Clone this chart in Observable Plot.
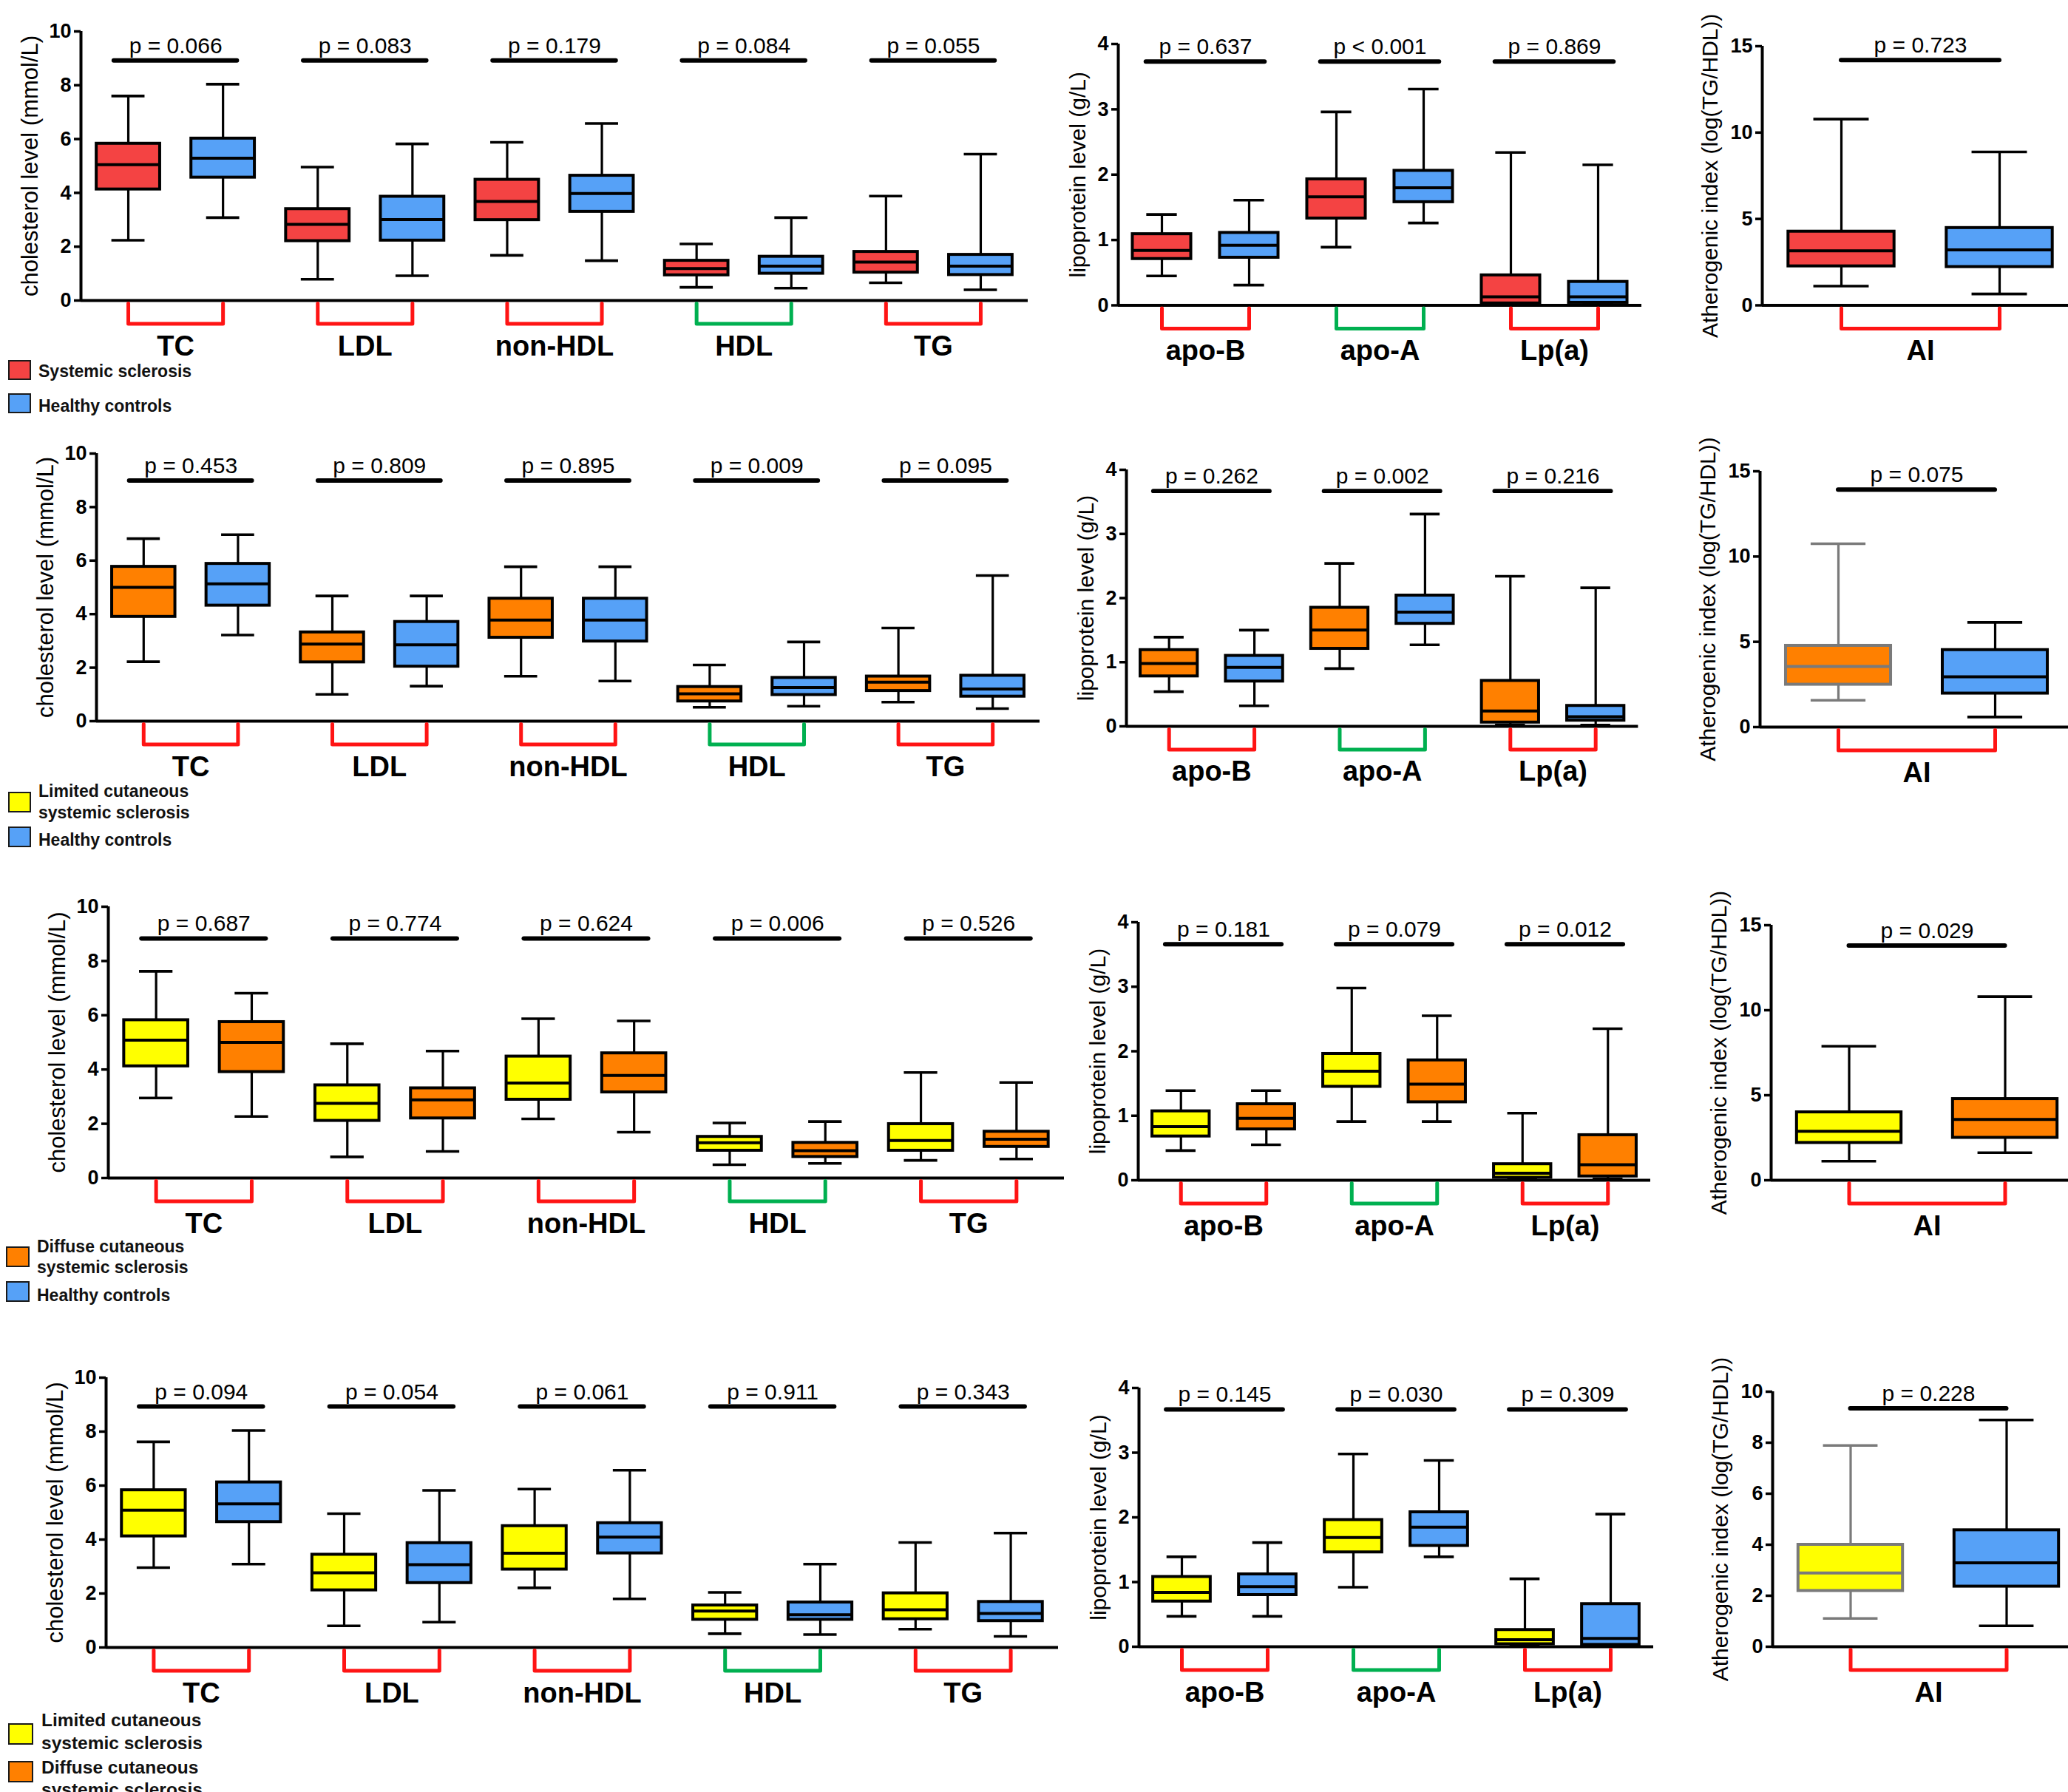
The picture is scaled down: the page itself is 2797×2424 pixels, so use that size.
<!DOCTYPE html>
<html>
<head>
<meta charset="utf-8">
<script src="https://cdn.jsdelivr.net/npm/d3@7"></script>
<script src="https://cdn.jsdelivr.net/npm/@observablehq/plot@0.6"></script>
<style>
  html, body { margin: 0; padding: 0; background: #fff; overflow: hidden; }
  #root { position: relative; width: 2797px; height: 2424px; font-family: "Liberation Sans", Arial, sans-serif; overflow: hidden; }
  .panel { position: absolute; width: 1600px; }
  .panel svg { overflow: visible; background: transparent; display: block; max-width: none !important; }
  .sq { position: absolute; box-sizing: border-box; border: 2px solid #1a1a1a; }
  .lt { position: absolute; font-weight: bold; color: #111; white-space: nowrap; }
</style>
</head>
<body>
<div id="root"></div>
<script>
// ---------------- categories, ticks, labels ----------------
const lipidCategories = ["TC", "LDL", "non-HDL", "HDL", "TG"];
const apoCategories = ["apo-B", "apo-A", "Lp(a)"];
const aiCategories = ["AI"];
const lipidTicks = [0, 2, 4, 6, 8, 10];
const apoTicks = [0, 1, 2, 3, 4];
const aiTicks = [0, 5, 10, 15];
const aiTicksRow4 = [0, 2, 4, 6, 8, 10];
const lipidYLabel = "cholesterol level (mmol/L)";
const apoYLabel = "lipoprotein level (g/L)";
const aiYLabel = "Atherogenic index (log(TG/HDL))";

// box statistics per category: [lower whisker, Q1, median, Q3, upper whisker]
// Row 1: systemic sclerosis vs healthy controls
const row1LipidA = [[2.24,4.13,5.05,5.83,7.60],[0.79,2.21,2.83,3.40,4.96],[1.68,2.99,3.68,4.49,5.88],[0.49,0.94,1.19,1.48,2.10],[0.66,1.04,1.43,1.81,3.88]];
const row1LipidB = [[3.08,4.57,5.29,6.02,8.04],[0.92,2.23,3.01,3.86,5.82],[1.48,3.30,3.98,4.64,6.58],[0.46,1.00,1.28,1.63,3.08],[0.40,0.95,1.28,1.70,5.44]];
const row1ApoA = [[0.45,0.71,0.84,1.09,1.39],[0.89,1.33,1.66,1.93,2.96],[0.01,0.03,0.13,0.46,2.34]];
const row1ApoB = [[0.31,0.73,0.92,1.11,1.61],[1.26,1.58,1.80,2.06,3.31],[0.01,0.04,0.13,0.36,2.15]];
const row1AiA = [[1.11,2.26,3.16,4.27,10.78]];
const row1AiB = [[0.66,2.22,3.21,4.48,8.88]];
const row1LipidP = ["p = 0.066","p = 0.083","p = 0.179","p = 0.084","p = 0.055"];
const row1ApoP = ["p = 0.637","p < 0.001","p = 0.869"];
const row1AiP = ["p = 0.723"];

// Row 2
const row2LipidA = [[2.22,3.90,5.00,5.77,6.82],[1.00,2.20,2.88,3.32,4.68],[1.68,3.12,3.78,4.58,5.77],[0.52,0.74,1.02,1.28,2.10],[0.71,1.13,1.46,1.67,3.48]];
const row2LipidB = [[3.22,4.32,5.13,5.88,6.97],[1.31,2.04,2.85,3.71,4.68],[1.50,2.98,3.78,4.58,5.77],[0.56,0.98,1.26,1.62,2.96],[0.47,0.92,1.20,1.70,5.44]];
const row2ApoA = [[0.54,0.78,0.98,1.19,1.39],[0.90,1.21,1.50,1.85,2.54],[0.02,0.06,0.24,0.71,2.34]];
const row2ApoB = [[0.32,0.70,0.92,1.10,1.50],[1.27,1.60,1.78,2.04,3.31],[0.02,0.09,0.15,0.32,2.16]];
const row2AiA = [[1.57,2.49,3.56,4.77,10.75]];
const row2AiB = [[0.59,1.97,2.95,4.52,6.14]];
const row2LipidP = ["p = 0.453","p = 0.809","p = 0.895","p = 0.009","p = 0.095"];
const row2ApoP = ["p = 0.262","p = 0.002","p = 0.216"];
const row2AiP = ["p = 0.075"];

// Row 3
const row3LipidA = [[2.95,4.12,5.08,5.82,7.62],[0.78,2.11,2.75,3.42,4.95],[2.18,2.89,3.50,4.48,5.87],[0.49,1.01,1.30,1.52,2.03],[0.65,1.01,1.38,1.99,3.89]];
const row3LipidB = [[2.27,3.91,5.00,5.75,6.81],[0.98,2.20,2.88,3.31,4.68],[1.69,3.16,3.78,4.60,5.79],[0.54,0.78,1.01,1.30,2.08],[0.70,1.15,1.43,1.71,3.52]];
const row3ApoA = [[0.46,0.68,0.83,1.07,1.39],[0.91,1.45,1.69,1.96,2.98],[0.02,0.04,0.11,0.25,1.04]];
const row3ApoB = [[0.55,0.79,0.96,1.18,1.39],[0.91,1.21,1.49,1.86,2.55],[0.02,0.06,0.24,0.70,2.35]];
const row3AiA = [[1.12,2.20,2.88,4.00,7.88]];
const row3AiB = [[1.62,2.50,3.58,4.78,10.80]];
const row3LipidP = ["p = 0.687","p = 0.774","p = 0.624","p = 0.006","p = 0.526"];
const row3ApoP = ["p = 0.181","p = 0.079","p = 0.012"];
const row3AiP = ["p = 0.029"];

// Row 4
const row4LipidA = [[2.96,4.12,5.09,5.83,7.62],[0.80,2.12,2.77,3.44,4.96],[2.21,2.89,3.49,4.50,5.87],[0.51,1.03,1.35,1.56,2.04],[0.68,1.05,1.40,2.01,3.89]];
const row4LipidB = [[3.09,4.65,5.32,6.12,8.04],[0.94,2.39,3.07,3.87,5.82],[1.80,3.49,4.09,4.61,6.57],[0.48,1.03,1.21,1.67,3.09],[0.41,0.98,1.26,1.69,4.24]];
const row4ApoA = [[0.47,0.70,0.84,1.08,1.39],[0.92,1.46,1.69,1.96,2.98],[0.02,0.04,0.11,0.26,1.05]];
const row4ApoB = [[0.47,0.80,0.93,1.12,1.61],[1.39,1.56,1.85,2.08,2.88],[0.01,0.03,0.13,0.66,2.05]];
const row4AiA = [[1.11,2.19,2.89,4.00,7.89]];
const row4AiB = [[0.82,2.36,3.29,4.57,8.89]];
const row4LipidP = ["p = 0.094","p = 0.054","p = 0.061","p = 0.911","p = 0.343"];
const row4ApoP = ["p = 0.145","p = 0.030","p = 0.309"];
const row4AiP = ["p = 0.228"];

// legend texts
const legendSSc = ["Systemic sclerosis"];
const legendHC = ["Healthy controls"];
const legendLC = ["Limited cutaneous", "systemic sclerosis"];
const legendDC = ["Diffuse cutaneous", "systemic sclerosis"];

// ---------------- styles ----------------
const C = { ssc: "#F44343", hc: "#56A1F7", lc: "#FFFF00", dc: "#FF8000", gray: "#7a7a7a", black: "#000" };
const BR = { red: "#FF1414", green: "#00B050" };
const lipidBracket = [BR.red, BR.red, BR.red, BR.green, BR.red];
const apoBracket = [BR.red, BR.green, BR.red];
const aiBracket = [BR.red];
const FONT = "'Liberation Sans', Arial, Helvetica, sans-serif";

// ---------------- layout (pixels) ----------------
const layout = [
  { L: {ax:109, top:42,   bot:406,  slot:128.1, pLevel:8.92}, M: {ax:1512, top:59,   bot:412.5, slot:118,   pLevel:3.73}, R: {ax:2383, top:61.5, bot:412,  slot:214, pLevel:14.2} },
  { L: {ax:130, top:613,  bot:975,  slot:127.6, pLevel:8.99}, M: {ax:1523, top:635,  bot:982,   slot:115.4, pLevel:3.67}, R: {ax:2380, top:637,  bot:983,  slot:212, pLevel:13.93} },
  { L: {ax:146, top:1226, bot:1593, slot:129.3, pLevel:8.83}, M: {ax:1539, top:1247, bot:1596,  slot:115.5, pLevel:3.66}, R: {ax:2395, top:1251, bot:1596, slot:211, pLevel:13.8} },
  { L: {ax:143, top:1863, bot:2228, slot:128.8, pLevel:8.93}, M: {ax:1540, top:1877, bot:2227,  slot:116,   pLevel:3.67}, R: {ax:2397, top:1882, bot:2227, slot:211, pLevel:9.35} }
];

const root = document.getElementById("root");

function drawPanel(cfg) {
  const {ax, top, bot, slot, pLevel, cats, A, B, fillA, fillB, strokeA = C.black, strokeB = C.black,
         ymax, ticks, pLabels, pExt, bracketCols, ylabel, ylabelSize, ylabelDx, xExtra = 0} = cfg;
  const n = cats.length * 2;
  const ML = 110, MR = 20, MT = 50, MB = 110;
  const innerH = bot - top;
  const width = ML + n * slot + MR;
  const height = MT + innerH + MB;
  const rows = [];
  cats.forEach((cat, i) => {
    [[A[i], fillA, strokeA], [B[i], fillB, strokeB]].forEach(([s, f, st], j) => {
      rows.push({c: 2 * i + j + 0.5, lo: s[0], q1: s[1], med: s[2], q3: s[3], hi: s[4], fill: f, stroke: st});
    });
  });
  const groups = cats.map((cat, i) => ({name: cat, c1: 2 * i + 0.5, c2: 2 * i + 1.5, mid: 2 * i + 1, p: pLabels[i], col: bracketCols[i]}));
  const u = ymax / innerH; // data units per pixel
  const brk = groups.flatMap(g => [
    {x: g.c1, y: -4 * u, g: g.name, col: g.col},
    {x: g.c1, y: -31.5 * u, g: g.name, col: g.col},
    {x: g.c2, y: -31.5 * u, g: g.name, col: g.col},
    {x: g.c2, y: -4 * u, g: g.name, col: g.col}
  ]);
  const half = 0.335, cap = 0.175;
  const svg = Plot.plot({
    width, height,
    marginLeft: ML, marginRight: MR, marginTop: MT, marginBottom: MB,
    x: {domain: [0, n], axis: null},
    y: {domain: [0, ymax], axis: null},
    color: {type: "identity"},
    style: {fontFamily: FONT, color: "#000", background: "transparent", overflow: "visible", maxWidth: "none"},
    marks: [
      Plot.ruleY([0], {x1: 0, x2: n + xExtra, strokeWidth: 4}),
      Plot.ruleX([0], {y1: 0, y2: ymax, strokeWidth: 4}),
      Plot.axisY({ticks, tickSize: 9, tickPadding: 4, fontSize: 27, fontWeight: "bold", strokeWidth: 3.5, label: null, tickFormat: d => String(d)}),
      Plot.ruleX(rows, {x: "c", y1: "lo", y2: "hi", stroke: "stroke", strokeWidth: 3.2}),
      Plot.ruleY(rows, {y: "lo", x1: d => d.c - cap, x2: d => d.c + cap, stroke: "stroke", strokeWidth: 3.6}),
      Plot.ruleY(rows, {y: "hi", x1: d => d.c - cap, x2: d => d.c + cap, stroke: "stroke", strokeWidth: 3.6}),
      Plot.rect(rows, {x1: d => d.c - half, x2: d => d.c + half, y1: "q1", y2: "q3", fill: "fill", stroke: "stroke", strokeWidth: 4}),
      Plot.ruleY(rows, {y: "med", x1: d => d.c - half, x2: d => d.c + half, stroke: "stroke", strokeWidth: 4}),
      Plot.ruleY(groups, {y: () => pLevel, x1: d => d.c1 - pExt, x2: d => d.c2 + pExt, strokeWidth: 6, strokeLinecap: "round"}),
      Plot.text(groups, {x: "mid", y: () => pLevel, text: "p", dy: -10, lineAnchor: "bottom", fontSize: 30}),
      Plot.line(brk, {x: "x", y: "y", z: "g", stroke: "col", strokeWidth: 5, strokeLinejoin: "round"}),
      Plot.text(groups, {x: "mid", y: () => 0, text: "name", dy: 74, lineAnchor: "bottom", fontSize: 38, fontWeight: "bold"}),
      Plot.text([ylabel], {text: d => d, frameAnchor: "left", textAnchor: "middle", rotate: -90, dx: -ylabelDx, lineAnchor: "bottom", fontSize: ylabelSize})
    ]
  });
  const div = document.createElement("div");
  div.className = "panel";
  div.style.left = (ax - ML) + "px";
  div.style.top = (top - MT) + "px";
  div.appendChild(svg);
  root.appendChild(div);
}

const rowsDef = [
  {lipid: [row1LipidA, row1LipidB, row1LipidP], apo: [row1ApoA, row1ApoB, row1ApoP], ai: [row1AiA, row1AiB, row1AiP],
   fillA: C.ssc, fillB: C.hc, aiStrokeA: C.black, aiTicks: aiTicks, aiMax: 15},
  {lipid: [row2LipidA, row2LipidB, row2LipidP], apo: [row2ApoA, row2ApoB, row2ApoP], ai: [row2AiA, row2AiB, row2AiP],
   fillA: C.dc, fillB: C.hc, aiStrokeA: C.gray, aiTicks: aiTicks, aiMax: 15},
  {lipid: [row3LipidA, row3LipidB, row3LipidP], apo: [row3ApoA, row3ApoB, row3ApoP], ai: [row3AiA, row3AiB, row3AiP],
   fillA: C.lc, fillB: C.dc, aiStrokeA: C.black, aiTicks: aiTicks, aiMax: 15},
  {lipid: [row4LipidA, row4LipidB, row4LipidP], apo: [row4ApoA, row4ApoB, row4ApoP], ai: [row4AiA, row4AiB, row4AiP],
   fillA: C.lc, fillB: C.hc, aiStrokeA: C.gray, aiTicks: aiTicksRow4, aiMax: 10}
];

rowsDef.forEach((r, k) => {
  const lay = layout[k];
  drawPanel({...lay.L, cats: lipidCategories, A: r.lipid[0], B: r.lipid[1], pLabels: r.lipid[2],
    fillA: r.fillA, fillB: r.fillB, ymax: 10, ticks: lipidTicks, pExt: 0.15, bracketCols: lipidBracket,
    ylabel: lipidYLabel, ylabelSize: 31, ylabelDx: 59});
  drawPanel({...lay.M, cats: apoCategories, A: r.apo[0], B: r.apo[1], pLabels: r.apo[2],
    fillA: r.fillA, fillB: r.fillB, ymax: 4, ticks: apoTicks, pExt: 0.18, bracketCols: apoBracket,
    ylabel: apoYLabel, ylabelSize: 30, ylabelDx: 45});
  drawPanel({...lay.R, cats: aiCategories, A: r.ai[0], B: r.ai[1], pLabels: r.ai[2],
    fillA: r.fillA, fillB: r.fillB, strokeA: r.aiStrokeA, ymax: r.aiMax, ticks: r.aiTicks, pExt: 0.0, bracketCols: aiBracket,
    ylabel: aiYLabel, ylabelSize: 30, ylabelDx: 61, xExtra: 0.3});
});

// ---------------- legends (HTML) ----------------
const legends = [
  {x: 11, tx: 52, w: 31, h: 27, fs: 23, items: [
    {color: C.ssc, top: 487, lines: legendSSc, baselines: [510]},
    {color: C.hc, top: 532, lines: legendHC, baselines: [557]}]},
  {x: 11, tx: 52, w: 31, h: 28, fs: 23, items: [
    {color: C.lc, top: 1071, lines: legendLC, baselines: [1078, 1107]},
    {color: C.hc, top: 1118, lines: legendHC, baselines: [1144]}]},
  {x: 8, tx: 50, w: 32, h: 28, fs: 23, items: [
    {color: C.dc, top: 1686, lines: legendDC, baselines: [1694, 1722]},
    {color: C.hc, top: 1733, lines: legendHC, baselines: [1760]}]},
  {x: 11, tx: 56, w: 34, h: 29, fs: 24.5, items: [
    {color: C.lc, top: 2331, lines: legendLC, baselines: [2336, 2367]},
    {color: C.dc, top: 2382, lines: legendDC, baselines: [2400, 2430]}]}
];
legends.forEach(lg => {
  lg.items.forEach(it => {
    const sq = document.createElement("div");
    sq.className = "sq";
    Object.assign(sq.style, {left: lg.x + "px", top: it.top + "px", width: lg.w + "px", height: lg.h + "px", background: it.color});
    root.appendChild(sq);
    it.lines.forEach((t, j) => {
      const d = document.createElement("div");
      d.className = "lt";
      d.textContent = t;
      Object.assign(d.style, {left: lg.tx + "px", top: (it.baselines[j] - 0.8465 * lg.fs) + "px", fontSize: lg.fs + "px", lineHeight: lg.fs + "px"});
      root.appendChild(d);
    });
  });
});
</script>
</body>
</html>
